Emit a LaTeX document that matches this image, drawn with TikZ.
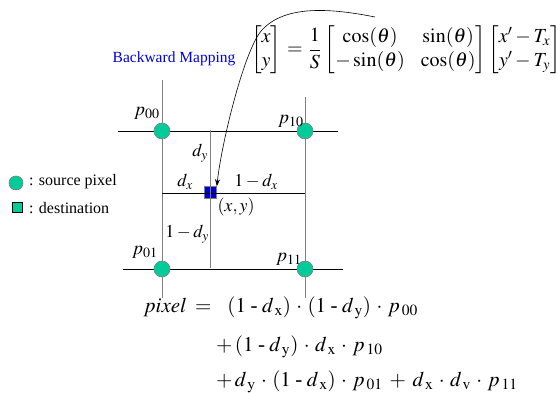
\documentclass[tikz,border=0pt]{standalone}
\usepackage{amsmath}
\usepackage{mathptmx}
\usepackage[no-math]{fontspec}
\setmainfont{Liberation Serif}
\usetikzlibrary{arrows.meta}
\definecolor{srcgreen}{HTML}{00CC99}
\definecolor{dstblue}{HTML}{0000CC}
\definecolor{mapblue}{HTML}{0000DD}
\newcommand{\hy}{\hspace{4.5pt}\mbox{-}\hspace{4.5pt}}
\newcommand{\cd}{\hspace{2.5pt}\cdot\hspace{2.5pt}}
\newcommand{\dsub}[1]{d_{\hspace{2pt}\mathrm{#1}}}
\newcommand{\psub}[1]{p_{\hspace{2pt}\mathrm{#1}}}
\tikzset{
  srcpix/.style={circle,fill=srcgreen,draw=gray,line width=0.6pt,minimum size=16pt,inner sep=0pt},
  dstpix/.style={rectangle,fill=dstblue,draw=gray,line width=0.6pt,minimum size=12pt,inner sep=0pt},
  legsq/.style={rectangle,fill=srcgreen,draw=black,line width=0.6pt,minimum size=9.5pt,inner sep=0pt},
  legcirc/.style={circle,fill=srcgreen,draw=gray,line width=0.6pt,minimum size=14pt,inner sep=0pt},
  hline/.style={black,line width=0.8pt},
  vline/.style={gray,line width=0.9pt},
  lbl/.style={inner sep=0pt,font=\fontsize{18}{20}\selectfont},
  plbl/.style={inner sep=0pt,font=\fontsize{19}{21}\selectfont},
  legtxt/.style={inner sep=0pt,anchor=west,font=\fontsize{16}{18}\selectfont},
  frm/.style={inner sep=0pt,anchor=base west,font=\fontsize{21}{23}\selectfont},
}
\begin{document}
\begin{tikzpicture}[x=1pt,y=-1pt]
\useasboundingbox (0,0) rectangle (557,393);
% grid lines
\coordinate (vl1) at (162,80);  \coordinate (vl2) at (162,298);
\coordinate (vr1) at (305,97);  \coordinate (vr2) at (305,298);
\coordinate (ht1) at (118,131); \coordinate (ht2) at (338,131);
\coordinate (hb1) at (123,269); \coordinate (hb2) at (343,269);
\coordinate (hm1) at (162,193); \coordinate (hm2) at (305,193);
\coordinate (vm1) at (210,130); \coordinate (vm2) at (210,268);
\draw[vline] (vl1) -- (vl2);
\draw[vline] (vr1) -- (vr2);
\draw[hline] (ht1) -- (ht2);
\draw[hline] (hb1) -- (hb2);
% destination pixel
\node[dstpix] (dst) at (210.5,192.5) {};
\draw[hline,line width=0.6pt] (hm1) -- (hm2);
\draw[vline,line width=0.8pt] (vm1) -- (vm2);
% source pixels
\node[srcpix] (p00) at (162,131) {};
\node[srcpix] (p10) at (305,131) {};
\node[srcpix] (p01) at (162,269) {};
\node[srcpix] (p11) at (305,269) {};
% pixel labels
\node[plbl] (lp00) at (147,113) {$p_{\mathrm{00}}$};
\node[plbl] (lp10) at (291,121) {$p_{\mathrm{10}}$};
\node[plbl] (lp01) at (145,252) {$p_{\mathrm{01}}$};
\node[plbl] (lp11) at (289,259) {$p_{\mathrm{11}}$};
% distance labels
\node[lbl] (ldy) at (200,153) {$d_y$};
\node[lbl] (ldx) at (185,182) {$d_x$};
\node[lbl] (l1dx) at (256,182) {$1-d_x$};
\node[lbl] (lxy) at (236,207) {$(x,y)$};
\node[lbl] (l1dy) at (187,234) {$1-d_y$};
% legend
\node[legcirc] (legc) at (16,183) {};
\node[legtxt] (legct) at (29,182) {: source pixel};
\node[legsq] (legs) at (17.5,207.5) {};
\node[legtxt] (legst) at (29,208) {: destination};
% title
\node[inner sep=0pt,text=mapblue,font=\fontsize{15.5}{17}\selectfont] (title) at (174,59) {Backward Mapping};
% matrix equation
\node[inner sep=0pt,font=\fontsize{20}{24}\selectfont] (mat) at (406,50)
 {$\setlength{\arraycolsep}{6pt}\begin{bmatrix} x\\ y\end{bmatrix}\hspace{1.5pt}=\hspace{1.5pt}\dfrac{1}{S}\hspace{1.5pt}\setlength{\arraycolsep}{8pt}\begin{bmatrix}\cos(\theta) & \sin(\theta)\\ -\sin(\theta) & \cos(\theta)\end{bmatrix}\setlength{\arraycolsep}{4pt}\begin{bmatrix} x^{\prime}-T_x\\ y^{\prime}-T_y\end{bmatrix}$};
% arrow
\coordinate (as) at (375,17);
\coordinate (am) at (262,30);
\draw[black,line width=0.6pt,-{Stealth[length=7pt,width=5pt]}] (as) .. controls (330,8) and (285,5) .. (am) .. controls (245,48) and (222,140) .. (dst.north east);
% formula
\node[frm] (f1) at (145,312) {$\mathit{pixel}\hspace{9pt}{=}\hspace{16pt}(1\hy \dsub{x})\cd(1\hy \dsub{y})\cd \psub{00}$};
\node[frm] (f2) at (216,351) {$+\,(1\hy \dsub{y})\cd \dsub{x}\cd \psub{10}$};
\node[frm] (f3) at (216,386) {$+\,\dsub{y}\cd(1\hy \dsub{x})\cd \psub{01}\hspace{4pt}+\hspace{4pt}\dsub{x}\cd \dsub{v}\cd \psub{11}$};
\end{tikzpicture}
\end{document}
